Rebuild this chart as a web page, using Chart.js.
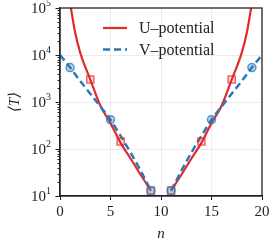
<!DOCTYPE html>
<html>
<head>
<meta charset="utf-8">
<script src="https://cdn.jsdelivr.net/npm/chart.js@4"></script>
<style>
  html, body { margin: 0; padding: 0; background: #fff; }
  #wrap { width: 274px; height: 246px; }
</style>
</head>
<body>
<div id="wrap"><canvas id="myChart"></canvas></div>
<script>
// curves (theory), gap between n = 9 and n = 11
const nU = [1, 1.5, 2, 3, 4, 5, 6, 7, 8, 9, 10, 11, 12, 13, 14, 15, 16, 17, 18, 18.5, 19];
const tU = [126000, 30000, 11200, 3000, 830, 355, 135, 62, 28, 13, null, 13, 28, 62, 135, 355, 830, 3000, 11200, 30000, 126000];
const nV = [0, 1, 2, 3, 4, 5, 6, 7, 8, 9, 10, 11, 12, 13, 14, 15, 16, 17, 18, 19, 20];
const tV = [10000, 5400, 2800, 1500, 800, 420, 190, 83, 34, 13, null, 13, 34, 83, 190, 420, 800, 1500, 2800, 5400, 10000];

// simulation markers
const nUmark = [3, 6, 9, 11, 14, 17];
const tUmark = [3000, 145, 13, 13, 145, 3000];
const nVmark = [1, 5, 9, 11, 15, 19];
const tVmark = [5400, 420, 13, 13, 420, 5400];

const xTicks = [0, 5, 10, 15, 20];
const yExps = [1, 2, 3, 4, 5];

const RED = '#e32a2a';
const BLUE = '#2a7ab8';
const SERIF = "'Liberation Serif', 'DejaVu Serif', serif";

const pts = (xs, ys) => xs.map((x, i) => ({ x: x, y: ys[i] }));

// frame, y tick marks with 10^n labels, legend
const decorPlugin = {
    id: 'decor',
    afterDraw(chart) {
        const ctx = chart.ctx;
        const a = chart.chartArea;
        const y = chart.scales.y;
        ctx.save();
        ctx.strokeStyle = '#222';
        ctx.lineWidth = 1.3;
        ctx.strokeRect(a.left, a.top, a.right - a.left, a.bottom - a.top);

        // y ticks
        ctx.lineWidth = 1;
        for (let e = 1; e < 5; e++) {
            for (let m = 1; m < 10; m++) {
                const py = Math.round(y.getPixelForValue(m * Math.pow(10, e))) + 0.5;
                const len = m === 1 ? 4.5 : 2.5;
                ctx.beginPath();
                ctx.moveTo(a.left - len, py);
                ctx.lineTo(a.left, py);
                ctx.stroke();
            }
        }
        const pTop = Math.round(y.getPixelForValue(1e5)) + 0.5;
        ctx.beginPath(); ctx.moveTo(a.left - 4.5, pTop); ctx.lineTo(a.left, pTop); ctx.stroke();

        // y labels 10^n
        ctx.fillStyle = '#222';
        ctx.textBaseline = 'middle';
        ctx.textAlign = 'left';
        yExps.forEach(e => {
            const py = y.getPixelForValue(Math.pow(10, e));
            ctx.font = '15px ' + SERIF;
            const wb = ctx.measureText('10').width;
            ctx.font = '10px ' + SERIF;
            const we = ctx.measureText(String(e)).width;
            const right = 51;
            ctx.font = '15px ' + SERIF;
            ctx.fillText('10', right - we - wb, py + 1);
            ctx.font = '10px ' + SERIF;
            ctx.fillText(String(e), right - we, py - 5);
        });

        // legend (U first, V second)
        const items = chart.data.datasets.filter(d => d.label).reverse();
        items.forEach((d, i) => {
            const ly = a.top + 20 + i * 21.5;
            ctx.strokeStyle = d.borderColor;
            ctx.lineWidth = d.borderWidth;
            ctx.setLineDash(d.borderDash || []);
            ctx.beginPath();
            ctx.moveTo(a.left + 43, ly);
            ctx.lineTo(a.left + 67, ly);
            ctx.stroke();
            ctx.setLineDash([]);
            ctx.fillStyle = '#222';
            ctx.font = '16px ' + SERIF;
            ctx.textBaseline = 'middle';
            ctx.fillText(d.label, a.left + 79, ly + 1);
        });
        ctx.restore();
    }
};

const ctx = document.getElementById('myChart').getContext('2d');
const myChart = new Chart(ctx, {
    type: 'line',
    data: {
        datasets: [{
            data: pts(nVmark, tVmark),
            showLine: false,
            pointStyle: 'circle',
            pointRadius: 4,
            pointBorderWidth: 1.5,
            pointBorderColor: 'rgba(42,122,184,0.75)',
            pointBackgroundColor: 'rgba(42,122,184,0.3)'
        }, {
            data: pts(nUmark, tUmark),
            showLine: false,
            pointStyle: 'rect',
            pointRadius: 5,
            pointBorderWidth: 1.5,
            pointBorderColor: 'rgba(227,42,42,0.7)',
            pointBackgroundColor: 'rgba(227,42,42,0.12)'
        }, {
            label: 'V\u2013potential',
            data: pts(nV, tV),
            borderColor: BLUE,
            borderWidth: 2.5,
            borderDash: [7, 4],
            pointRadius: 0,
            cubicInterpolationMode: 'monotone',
            spanGaps: false
        }, {
            label: 'U\u2013potential',
            data: pts(nU, tU),
            borderColor: RED,
            borderWidth: 2.2,
            pointRadius: 0,
            cubicInterpolationMode: 'monotone',
            spanGaps: false
        }]
    },
    options: {
        responsive: true,
        maintainAspectRatio: false,
        animation: false,
        layout: { padding: { left: 0, right: 12, top: 8, bottom: 0 } },
        plugins: {
            legend: { display: false },
            tooltip: { enabled: false }
        },
        scales: {
            x: {
                type: 'linear',
                min: 0,
                max: 20,
                afterBuildTicks: s => { s.ticks = xTicks.map(v => ({ value: v })); },
                afterFit: s => { s.height = 50; },
                ticks: {
                    color: '#222',
                    padding: 3,
                    maxRotation: 0,
                    font: { family: SERIF, size: 15 }
                },
                grid: {
                    color: c => (c.tick && c.tick.value > 0 && c.tick.value < 20) ? 'rgba(0,0,0,0.07)' : 'rgba(0,0,0,0)',
                    tickColor: '#222',
                    tickLength: 4
                },
                border: { color: '#222', width: 1.3 },
                title: {
                    display: true,
                    text: 'n',
                    color: '#222',
                    padding: { top: 0, bottom: 3 },
                    font: { family: SERIF, size: 15, style: 'italic' }
                }
            },
            y: {
                type: 'logarithmic',
                min: 10,
                max: 100000,
                afterFit: s => { s.width = 60; },
                ticks: { display: false },
                grid: {
                    drawTicks: false,
                    color: c => {
                        if (!c.tick) return 'rgba(0,0,0,0)';
                        const l = Math.log10(c.tick.value);
                        return (Math.abs(l - Math.round(l)) < 1e-6 && l > 1 && l < 5) ? 'rgba(0,0,0,0.07)' : 'rgba(0,0,0,0)';
                    }
                },
                border: { color: '#222', width: 1.3 },
                title: {
                    display: true,
                    text: '\u27E8T\u27E9',
                    color: '#222',
                    padding: { top: 6, bottom: 0 },
                    font: { family: SERIF, size: 15, style: 'italic' }
                }
            }
        }
    },
    plugins: [decorPlugin]
});
</script>
</body>
</html>
